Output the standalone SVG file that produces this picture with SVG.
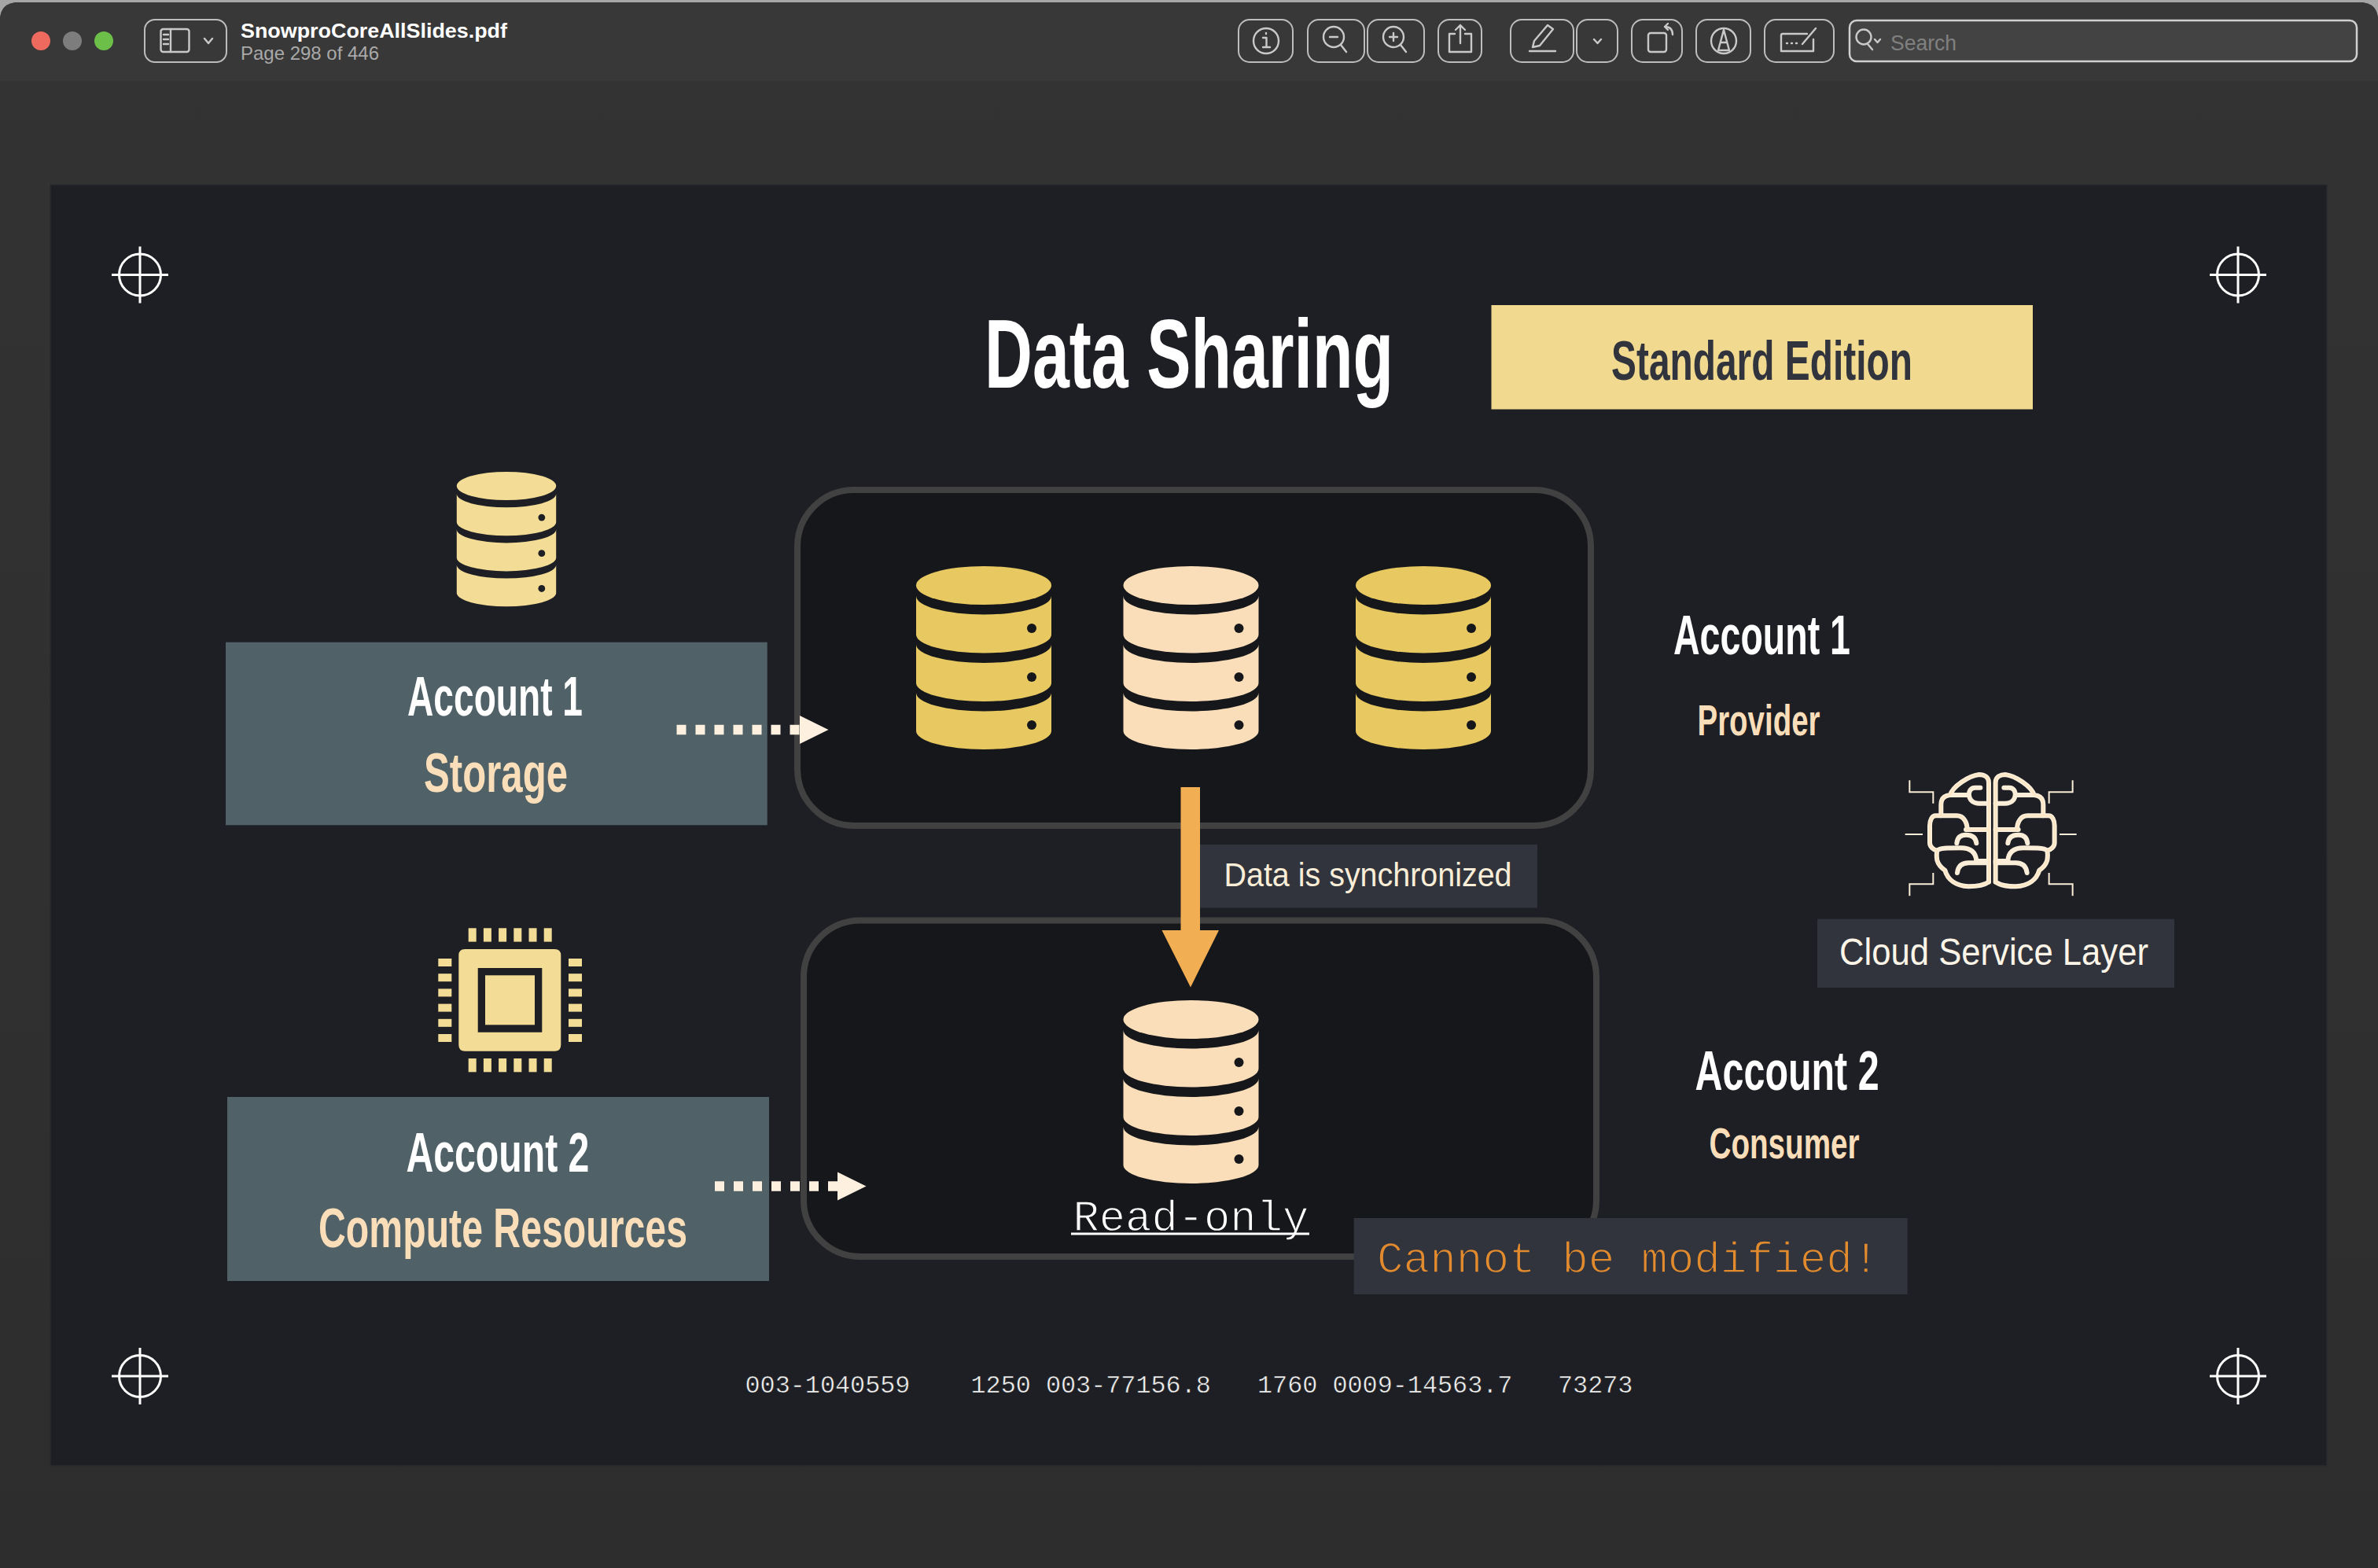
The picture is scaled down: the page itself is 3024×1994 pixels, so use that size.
<svg xmlns="http://www.w3.org/2000/svg" width="3024" height="1994" viewBox="0 0 3024 1994">
<style>
.cond{font-family:"Liberation Sans Narrow","Liberation Sans",Arial,sans-serif;font-weight:700}
.reg{font-family:"Liberation Sans Narrow","Liberation Sans",Arial,sans-serif;font-weight:400}
.mono{font-family:"Liberation Mono","DejaVu Sans Mono",monospace}
.ui{font-family:"Liberation Sans",Arial,sans-serif}
.tb{fill:none;stroke:#bdbdbd;stroke-width:2}
.ic{fill:none;stroke:#c9c9c9;stroke-width:2.4;stroke-linecap:round;stroke-linejoin:round}
.cross{fill:none;stroke:#fff;stroke-width:3}
.panel{fill:#16171b;stroke:#414141;stroke-width:8}
.tag{fill:#31343c}
.acct{fill:#506167}
.dots{fill:none;stroke:#fdf0df;stroke-width:12.5;stroke-dasharray:12 12}
.pin{fill:#f3dd96}
.brain{fill:none;stroke:#fbeed8;stroke-width:18;stroke-linecap:round;stroke-linejoin:round}
.brain2{fill:none;stroke:#fde4bf;stroke-width:5;stroke-linecap:round;stroke-linejoin:round}
.tick{fill:none;stroke:#fbeed8;stroke-width:6}
</style>
<defs>
<linearGradient id="bg" x1="0" y1="0" x2="0" y2="1"><stop offset="0" stop-color="#333333"/><stop offset="1" stop-color="#2d2d2d"/></linearGradient>
<g id="db">
<ellipse cx="0" cy="24.5" rx="86" ry="24.5"/>
<path d="M-86 38A86 23.5 0 0 0 86 38V87A86 23.5 0 0 1-86 87Z"/>
<path d="M-86 99.5A86 23.5 0 0 0 86 99.5V148.5A86 23.5 0 0 1-86 148.5Z"/>
<path d="M-86 161A86 23.5 0 0 0 86 161V209.5A86 23.5 0 0 1-86 209.5Z"/>
</g>
<g id="dbdots" fill="#16171b">
<circle cx="61" cy="79" r="6"/><circle cx="61" cy="141" r="6"/><circle cx="61" cy="202" r="6"/>
</g>
<g id="cross" class="cross">
<circle r="26.5"/><path d="M-36 0H36M0-36V36"/>
</g>
<g id="half">
<path d="M447 515V135C447 115 430 105 410 105C370 110 310 150 300 183C275 185 265 200 265 220V262H245C230 262 222 280 222 300V365C222 380 235 392 250 395C248 405 248 420 250 432C255 450 265 460 280 470C290 505 320 530 370 532C400 532 430 527 447 515"/>
<path d="M300 183H372M415 155H395C378 155 370 170 372 185C375 205 390 215 410 215H447"/>
<path d="M265 262H325C350 262 365 285 365 315M360 315H447"/>
<path d="M325 367C327 345 340 335 360 335C385 335 398 345 400 367"/>
<path d="M250 395C260 385 285 385 340 385C375 385 398 400 400 435M400 435H447"/>
<path d="M327 480C330 455 345 442 370 442H447"/>
</g>
<g id="half2">
<path d="M447 515V135C447 115 430 105 410 105C370 110 310 150 300 183C275 185 265 200 265 220V262H245C230 262 222 280 222 300V365C222 380 235 392 250 395C248 405 248 420 250 432C255 450 265 460 280 470C290 505 320 530 370 532C400 532 430 527 447 515"/>
<path d="M265 262H325C350 262 365 285 365 315M360 315H447"/>
</g>
</defs>

<g id="window">
<rect width="3024" height="60" fill="#a6a6a6"/>
<path d="M0 1994V26Q0 3 24 3H3000Q3024 3 3024 26V1994Z" fill="url(#bg)"/>
<path d="M0 103V26Q0 3 24 3H3000Q3024 3 3024 26V103Z" fill="#383838"/>
</g>

<g id="toolbar">
<ellipse cx="52" cy="52" rx="12" ry="12" fill="#ee6a5e"/>
<ellipse cx="92" cy="52" rx="12" ry="12" fill="#7d7d7d"/>
<ellipse cx="132" cy="52" rx="12" ry="12" fill="#6cc04a"/>
<rect class="tb" x="184" y="25" width="104" height="54" rx="13"/>
<rect class="ic" x="204.500" y="37" width="36" height="29" rx="3"/>
<path class="ic" d="M217 37V66M208 44H214M208 50H214M208 56H214M260 49L265 55L270 49"/>
<text class="ui" x="306" y="48" font-size="26" font-weight="700" fill="#ffffff" textLength="339" lengthAdjust="spacingAndGlyphs">SnowproCoreAllSlides.pdf</text>
<text class="ui" x="306" y="76" font-size="24" fill="#a9a9a9" textLength="176" lengthAdjust="spacingAndGlyphs">Page 298 of 446</text>
<rect class="tb" x="1575" y="25" width="69" height="54" rx="14"/>
<circle class="ic" cx="1610" cy="52" r="16"/><path class="ic" d="M1606 48H1610.500V60M1606 60H1615M1610 42V43"/>
<rect class="tb" x="1663" y="25" width="72" height="54" rx="14"/>
<circle class="ic" cx="1696" cy="47" r="13"/><path class="ic" d="M1705 57L1712 66M1691 47H1701"/>
<rect class="tb" x="1739" y="25" width="72" height="54" rx="14"/>
<circle class="ic" cx="1772" cy="47" r="13"/><path class="ic" d="M1781 57L1788 66M1767 47H1777M1772 42V52"/>
<rect class="tb" x="1829" y="25" width="55" height="54" rx="14"/>
<path class="ic" d="M1850 43H1843V66H1871V43H1863M1857 55V32M1851 38L1857 32L1863 38"/>
<rect class="tb" x="1921" y="25" width="80" height="54" rx="14"/>
<path class="ic" d="M1968 32L1975 37L1958 58L1949 60L1951 52ZM1945 65H1978"/>
<rect class="tb" x="2005" y="25" width="52" height="54" rx="14"/>
<path class="ic" d="M2027 50L2031.500 55L2036 50"/>
<rect class="tb" x="2075" y="25" width="64" height="54" rx="14"/>
<rect class="ic" x="2096" y="42" width="23" height="24" rx="3"/><path class="ic" d="M2127 44C2127 38 2124 34 2117 34M2121 30L2117 34L2121 38"/>
<rect class="tb" x="2157" y="25" width="69" height="54" rx="14"/>
<circle class="ic" cx="2192" cy="52" r="16"/><path class="ic" d="M2192 38L2185 64H2199ZM2188 54H2196"/>
<rect class="tb" x="2244" y="25" width="88" height="54" rx="14"/>
<path class="ic" d="M2298 43H2267Q2265 43 2265 45V65H2306V50M2309 36L2292 56M2272 55H2273M2278 55H2279M2284 55H2285"/>
<rect x="2352" y="26" width="645" height="52" rx="9" fill="#434343" stroke="#d0d0d0" stroke-width="2.500"/>
<circle class="ic" cx="2370" cy="47" r="9.500"/><path class="ic" d="M2375 56L2381 63M2384 50L2387.500 54L2391 50"/>
<text class="ui" x="2404" y="64" font-size="27" fill="#808080" textLength="84" lengthAdjust="spacingAndGlyphs">Search</text>
</g>

<rect id="slide" x="64" y="235" width="2895" height="1629" fill="#1e1f24" stroke="#2a2b2f" stroke-width="1.500"/>

<g id="crosshairs">
<use href="#cross" x="178" y="349.500"/>
<use href="#cross" x="2846" y="349.500"/>
<use href="#cross" x="178" y="1750"/>
<use href="#cross" x="2846" y="1750"/>
</g>

<g id="title"><text class="cond" x="1252" y="492.700" font-size="124" fill="#ffffff" textLength="520" lengthAdjust="spacingAndGlyphs">Data Sharing</text></g>

<g id="edition">
<rect x="1896.500" y="388" width="688.500" height="132.500" fill="#f1da90"/>
<text class="cond" x="2049" y="482.700" font-size="71" fill="#31343c" textLength="383" lengthAdjust="spacingAndGlyphs">Standard Edition</text>
</g>

<g id="provider-panel">
<rect class="panel" x="1014" y="623" width="1009" height="427" rx="72" ry="72"/>
<use href="#db" x="1251" y="720" fill="#e8c961"/><use href="#dbdots" x="1251" y="720"/>
<use href="#db" x="1514.500" y="720" fill="#fadeb9"/><use href="#dbdots" x="1514.500" y="720"/>
<use href="#db" x="1810" y="720" fill="#e8c961"/><use href="#dbdots" x="1810" y="720"/>
</g>

<g id="consumer-panel">
<rect class="panel" x="1022" y="1170.500" width="1008" height="427.500" rx="72" ry="72"/>
<use href="#db" x="1514.500" y="1272" fill="#fadeb9"/><use href="#dbdots" x="1514.500" y="1272"/>
<text class="mono" x="1364.500" y="1565" font-size="55.500" fill="#ffffff" stroke="#16171b" stroke-width="1.300">Read-only</text>
<rect x="1362" y="1567.500" width="303" height="3" fill="#ffffff"/>
</g>

<g id="storage-icon" transform="translate(644 600) scale(.735)">
<use href="#db" fill="#f3dd96"/>
<g fill="#1e1f24"><circle cx="61" cy="79" r="6"/><circle cx="61" cy="141" r="6"/><circle cx="61" cy="202" r="6"/></g>
</g>

<g id="account1-storage">
<rect class="acct" x="287" y="816.700" width="688.700" height="232.600"/>
<text class="cond" x="518" y="910" font-size="71" fill="#ffffff" textLength="223" lengthAdjust="spacingAndGlyphs">Account 1</text>
<text class="cond" x="539" y="1006.700" font-size="70" fill="#fadeb9" textLength="183" lengthAdjust="spacingAndGlyphs">Storage</text>
</g>

<g id="chip-icon">
<path class="pin" fill-rule="evenodd" d="M591.300 1207H705.300Q713.300 1207 713.300 1215V1328.700Q713.300 1336.700 705.300 1336.700H591.300Q583.300 1336.700 583.300 1328.700V1215Q583.300 1207 591.300 1207ZM607.700 1231V1312.700H689.300V1231Z"/>
<rect class="pin" x="617" y="1240.300" width="63" height="63"/>
<g class="pin">
<rect x="595.700" y="1180.300" width="10" height="17.300"/><rect x="614.900" y="1180.300" width="10" height="17.300"/><rect x="634.100" y="1180.300" width="10" height="17.300"/><rect x="653.300" y="1180.300" width="10" height="17.300"/><rect x="672.500" y="1180.300" width="10" height="17.300"/><rect x="691.700" y="1180.300" width="10" height="17.300"/>
<rect x="595.700" y="1346" width="10" height="17.300"/><rect x="614.900" y="1346" width="10" height="17.300"/><rect x="634.100" y="1346" width="10" height="17.300"/><rect x="653.300" y="1346" width="10" height="17.300"/><rect x="672.500" y="1346" width="10" height="17.300"/><rect x="691.700" y="1346" width="10" height="17.300"/>
<rect x="557.300" y="1219" width="17" height="10"/><rect x="557.300" y="1238.200" width="17" height="10"/><rect x="557.300" y="1257.400" width="17" height="10"/><rect x="557.300" y="1276.600" width="17" height="10"/><rect x="557.300" y="1295.800" width="17" height="10"/><rect x="557.300" y="1315" width="17" height="10"/>
<rect x="723" y="1219" width="17" height="10"/><rect x="723" y="1238.200" width="17" height="10"/><rect x="723" y="1257.400" width="17" height="10"/><rect x="723" y="1276.600" width="17" height="10"/><rect x="723" y="1295.800" width="17" height="10"/><rect x="723" y="1315" width="17" height="10"/>
</g>
</g>

<g id="account2-compute">
<rect class="acct" x="289" y="1395" width="689" height="234"/>
<text class="cond" x="516.400" y="1490" font-size="71" fill="#ffffff" textLength="233" lengthAdjust="spacingAndGlyphs">Account 2</text>
<text class="cond" x="405" y="1586" font-size="70" fill="#fadeb9" textLength="469" lengthAdjust="spacingAndGlyphs">Compute Resources</text>
</g>

<g id="sync-label">
<rect class="tag" x="1526" y="1074" width="429" height="80.500"/>
<text class="reg" x="1556.500" y="1127" font-size="43" fill="#fbeed8" textLength="366" lengthAdjust="spacingAndGlyphs">Data is synchronized</text>
</g>

<g id="connectors">
<path class="dots" d="M860.500 928H1017"/>
<polygon points="1017,910 1053.500,928 1017,946" fill="#fdf0df"/>
<path class="dots" d="M909 1508.500H1065"/>
<polygon points="1065,1490.500 1101.500,1508.500 1065,1526.500" fill="#fdf0df"/>
<polygon points="1501.500,1001 1526,1001 1526,1183 1550,1183 1514,1255.500 1477.500,1183 1501.500,1183" fill="#f2ae52"/>
</g>

<g id="provider-label">
<text class="cond" x="2128" y="832" font-size="71" fill="#ffffff" textLength="225" lengthAdjust="spacingAndGlyphs">Account 1</text>
<text class="cond" x="2158.500" y="934.600" font-size="56" fill="#fadeb9" textLength="156" lengthAdjust="spacingAndGlyphs">Provider</text>
</g>

<g id="cloud-service">
<g transform="translate(2380 950) scale(.3333)">
<use href="#half" class="brain"/>
<use href="#half" class="brain" transform="translate(920 0) scale(-1 1)"/>
<use href="#half2" class="brain2"/>
<use href="#half2" class="brain2" transform="translate(920 0) scale(-1 1)"/>
<path class="tick" d="M145 127V172H235V215M145 568V523H235V480M128 333H195M767 127V172H677V215M767 568V523H677V480M717 333H782"/>
</g>
<rect class="tag" x="2311" y="1168.700" width="454" height="87.300"/>
<text class="reg" x="2339" y="1227" font-size="48" fill="#fdf5e8" textLength="393" lengthAdjust="spacingAndGlyphs">Cloud Service Layer</text>
</g>

<g id="consumer-label">
<text class="cond" x="2155.600" y="1386" font-size="71" fill="#ffffff" textLength="234" lengthAdjust="spacingAndGlyphs">Account 2</text>
<text class="cond" x="2173.500" y="1472.600" font-size="55" fill="#fadeb9" textLength="191" lengthAdjust="spacingAndGlyphs">Consumer</text>
</g>

<g id="warning">
<rect class="tag" x="1721.600" y="1549" width="704" height="97"/>
<text class="mono" x="1751" y="1617.700" font-size="56" fill="#e28a2e" stroke="#31343c" stroke-width="1.500">Cannot be modified!</text>
</g>

<g id="footer" class="mono" font-size="31.800" fill="#f2f2f2" stroke="#1e1f24" stroke-width=".5">
<text x="947.500" y="1770.700">003-1040559</text>
<text x="1234.500" y="1770.700">1250 003-77156.8</text>
<text x="1599" y="1770.700">1760 0009-14563.7</text>
<text x="1981" y="1770.700">73273</text>
</g>
</svg>
